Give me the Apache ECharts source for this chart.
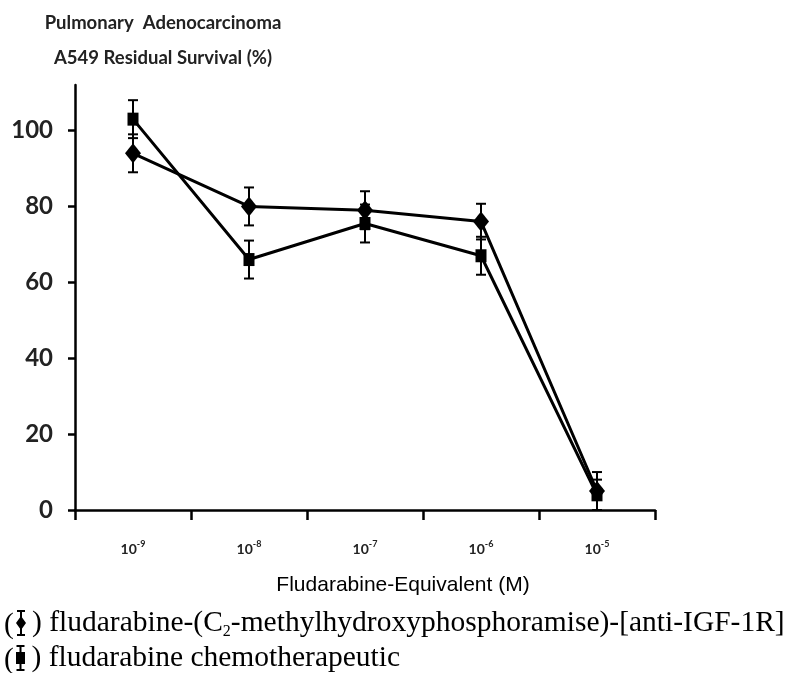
<!DOCTYPE html>
<html>
<head>
<meta charset="utf-8">
<style>
  html, body { margin: 0; padding: 0; background: #fff; }
  #chart { width: 787px; height: 673px; }
</style>
<script src="https://cdn.jsdelivr.net/npm/echarts@6/dist/echarts.min.js"></script>
</head>
<body>
<div id="chart"></div>
<script>
// concentrations (exponent of 10, M)
const exponents = ['-9', '-8', '-7', '-6', '-5'];
const yTicks = [0, 20, 40, 60, 80, 100];

// residual survival (%)
const conjugateMean = [94, 80, 79, 76, 5];
const conjugateErr = [5, 5, 5, 4.7, 5];
const fludaMean = [103, 66, 75.5, 67, 4];
const fludaErr = [5, 5, 5, 5, 4];

const conjugateName = 'fludarabine-(C2-methylhydroxyphosphoramise)-[anti-IGF-1R]';
const fludaName = 'fludarabine chemotherapeutic';

// legend icons: marker with an error bar through it
const diamondIcon = 'path://M2,0H10V2H2ZM5,0H7V26H5ZM6,6L11,13L6,20L1,13ZM2,24H10V26H2Z';
const squareIcon = 'path://M2,0H10V2H2ZM5,0H7V26H5ZM1.5,7H10.5V19H1.5ZM2,24H10V26H2Z';

function errorData(mean, err) {
  return mean.map((m, i) => [i, m - err[i], m + err[i]]);
}

function renderErrorBar(params, api) {
  const lo = api.coord([api.value(0), api.value(1)]);
  const hi = api.coord([api.value(0), api.value(2)]);
  const cap = 5;
  const style = { stroke: '#000', lineWidth: 2 };
  return {
    type: 'group',
    children: [
      { type: 'line', shape: { x1: lo[0], y1: lo[1], x2: hi[0], y2: hi[1] }, style },
      { type: 'line', shape: { x1: hi[0] - cap, y1: hi[1], x2: hi[0] + cap, y2: hi[1] }, style },
      { type: 'line', shape: { x1: lo[0] - cap, y1: lo[1], x2: lo[0] + cap, y2: lo[1] }, style }
    ]
  };
}

const legendRich = {
  t: { fontFamily: 'Liberation Serif', fontSize: 29.5, lineHeight: 34, color: '#000' },
  sub: { fontFamily: 'Liberation Serif', fontSize: 16, lineHeight: 14, verticalAlign: 'bottom', color: '#000' }
};

function legendFor(name, icon, top) {
  return {
    data: [{ name: name, icon: icon }],
    left: 16,
    top: top,
    padding: 0,
    itemWidth: 12,
    itemHeight: 26,
    selectedMode: false,
    formatter: n => n === conjugateName
      ? '{t|) fludarabine-(C}{sub|2}{t|-methylhydroxyphosphoramise)-[anti-IGF-1R]}'
      : '{t|) ' + n + '}',
    textStyle: { rich: legendRich }
  };
}

function openParen(y) {
  return {
    type: 'text', x: 4, y: y,
    style: { text: '(', font: '29.5px "Liberation Serif"', fill: '#000', verticalAlign: 'middle' }
  };
}

const chart = echarts.init(document.getElementById('chart'));

const option = {
  backgroundColor: '#fff',
  animation: false,
  title: {
    text: 'Pulmonary  Adenocarcinoma\nA549 Residual Survival (%)',
    left: 158,
    top: 1,
    textAlign: 'center',
    textStyle: {
      fontFamily: 'Lato',
      fontWeight: 'bold',
      fontSize: 18.5,
      lineHeight: 35,
      color: '#222'
    }
  },
  legend: [
    legendFor(conjugateName, diamondIcon, 608),
    legendFor(fludaName, squareIcon, 643)
  ],
  graphic: [openParen(625), openParen(660)],
  grid: { left: 75, right: 132, top: 85, bottom: 163 },
  xAxis: {
    type: 'category',
    data: exponents,
    boundaryGap: true,
    name: 'Fludarabine-Equivalent (M)',
    nameLocation: 'middle',
    nameGap: 65,
    nameTextStyle: {
      fontFamily: 'Liberation Sans',
      fontSize: 21,
      color: '#000',
      padding: [0, 0, 0, 76]
    },
    axisLine: { lineStyle: { color: '#000', width: 2.5 } },
    axisTick: { show: true, inside: false, length: 10, lineStyle: { color: '#000', width: 2.5 } },
    axisLabel: {
      margin: 30,
      formatter: v => '{b|10}{s|' + v + '}',
      rich: {
        b: { fontFamily: 'Lato', fontWeight: 'bold', fontSize: 14, lineHeight: 18, color: '#222' },
        s: { fontFamily: 'Lato', fontWeight: 'bold', fontSize: 9, lineHeight: 10, verticalAlign: 'top', color: '#222' }
      }
    },
    splitLine: { show: false }
  },
  yAxis: {
    type: 'value',
    min: 0,
    max: 112,
    axisLine: { show: true, lineStyle: { color: '#000', width: 2.5 } },
    axisTick: { show: true, length: 7, customValues: yTicks, lineStyle: { color: '#000', width: 2.5 } },
    axisLabel: {
      customValues: yTicks,
      margin: 22,
      fontFamily: 'Lato',
      fontWeight: 'bold',
      fontSize: 24,
      color: '#222'
    },
    splitLine: { show: false }
  },
  series: [
    {
      type: 'custom',
      name: 'conjugate-err',
      renderItem: renderErrorBar,
      encode: { x: 0, y: [1, 2] },
      data: errorData(conjugateMean, conjugateErr),
      z: 3
    },
    {
      type: 'custom',
      name: 'fluda-err',
      renderItem: renderErrorBar,
      encode: { x: 0, y: [1, 2] },
      data: errorData(fludaMean, fludaErr),
      z: 3
    },
    {
      name: conjugateName,
      type: 'line',
      data: conjugateMean,
      symbol: 'diamond',
      symbolSize: [16, 20],
      showAllSymbol: true,
      lineStyle: { color: '#000', width: 3 },
      itemStyle: { color: '#000' },
      z: 4
    },
    {
      name: fludaName,
      type: 'line',
      data: fludaMean,
      symbol: 'rect',
      symbolSize: [11, 13],
      showAllSymbol: true,
      lineStyle: { color: '#000', width: 3 },
      itemStyle: { color: '#000' },
      z: 4
    }
  ]
};

chart.setOption(option);
</script>
</body>
</html>
